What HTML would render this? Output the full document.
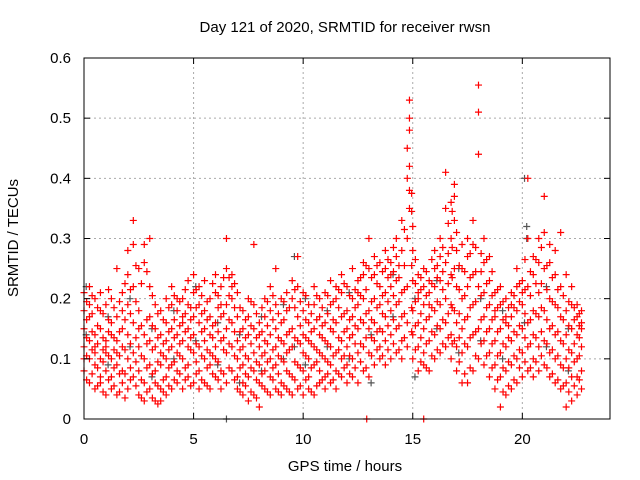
<!DOCTYPE html>
<html><head><meta charset="utf-8"><style>
body{margin:0;background:#fff;}
svg{display:block;font-family:"Liberation Sans",sans-serif;}
</style></head><body>
<svg id="chart" width="640" height="480">
<text x="345" y="32" text-anchor="middle" font-size="15">Day 121 of 2020, SRMTID for receiver rwsn</text>
<text x="345" y="471" text-anchor="middle" font-size="15">GPS time / hours</text>
<text transform="translate(18,238) rotate(-90)" text-anchor="middle" font-size="15">SRMTID / TECUs</text>
<g id="grid"></g><g id="gray"></g><g id="red"></g><g id="axes"></g>
</svg>
<script>
const xTicks=[0,5,10,15,20];
const yTicks=[0,0.1,0.2,0.3,0.4,0.5,0.6];
const yTickLabels=["0","0.1","0.2","0.3","0.4","0.5","0.6"];
const redTimes=[0,0.25,0.5,0.75,1,1.25,1.5,1.75,2,2.25,2.5,2.75,3,3.25,3.5,3.75,4,4.25,4.5,4.75,5,5.25,5.5,5.75,6,6.25,6.5,6.75,7,7.25,7.5,7.75,8,8.25,8.5,8.75,9,9.25,9.5,9.75,10,10.25,10.5,10.75,11,11.25,11.5,11.75,12,12.25,12.5,12.75,13,13.25,13.5,13.75,14,14.25,14.5,14.75,14.85,15,15.25,15.5,15.75,16,16.25,16.5,16.75,16.9,17,17.25,17.5,17.75,18,18.25,18.5,18.75,19,19.25,19.5,19.75,20,20.25,20.5,20.75,21,21.25,21.5,21.75,22,22.25,22.5,22.7,12.9,15.5];
const redValues=[
[.08,.12,.15,.18,.21,.10],[.06,.10,.13,.17,.22,.19],[.05,.09,.11,.14,.20,.12],[.07,.06,.10,.15,.18,.21],
[.04,.08,.12,.13,.19,.11],[.05,.07,.10,.16,.20,.14],[.04,.09,.13,.11,.17,.25],[.06,.08,.12,.15,.21,.18],
[.05,.10,.14,.19,.24,.28],[.07,.11,.16,.22,.29,.33],[.04,.08,.12,.18,.25,.15],[.03,.06,.10,.14,.26,.29],
[.05,.09,.13,.17,.22,.30],[.03,.06,.08,.12,.15,.19],[.03,.05,.09,.11,.14,.18],[.04,.07,.10,.13,.16,.20],
[.05,.09,.12,.15,.19,.22],[.06,.08,.11,.14,.18,.20],[.05,.10,.13,.16,.20,.17],[.07,.09,.12,.15,.19,.23],
[.06,.11,.14,.17,.21,.24],[.05,.08,.12,.16,.19,.22],[.06,.10,.13,.15,.18,.23],[.05,.09,.11,.14,.20,.17],
[.07,.10,.12,.16,.21,.24],[.05,.08,.13,.17,.22,.19],[.06,.11,.15,.19,.25,.30],[.08,.12,.16,.20,.24,.22],
[.05,.07,.10,.13,.17,.21],[.04,.06,.09,.12,.15,.18],[.03,.07,.10,.14,.17,.20],[.04,.08,.11,.15,.19,.29],
[.02,.06,.09,.12,.16,.14],[.05,.08,.11,.13,.17,.20],[.04,.07,.10,.14,.18,.22],[.05,.09,.12,.15,.19,.25],
[.04,.06,.10,.13,.16,.20],[.05,.08,.11,.14,.18,.21],[.04,.07,.12,.15,.20,.23],[.05,.09,.13,.17,.22,.27],
[.04,.08,.11,.14,.18,.21],[.05,.07,.10,.13,.16,.19],[.04,.09,.12,.15,.19,.22],[.06,.08,.11,.14,.17,.20],
[.05,.07,.10,.13,.16,.21],[.06,.09,.12,.15,.19,.23],[.05,.08,.11,.16,.20,.22],[.07,.10,.13,.17,.21,.24],
[.06,.09,.12,.15,.18,.22],[.07,.10,.14,.17,.20,.25],[.06,.11,.15,.19,.23,.21],[.08,.12,.16,.20,.24,.26],
[.07,.11,.15,.18,.25,.30],[.09,.13,.16,.20,.24,.27],[.10,.12,.15,.19,.22,.26],[.09,.13,.17,.21,.25,.28],
[.10,.14,.18,.22,.26,.24],[.11,.15,.19,.23,.27,.30],[.10,.13,.17,.21,.28,.33],[.12,.16,.22,.30,.40,.45],
[.35,.42,.48,.50,.53,.38],[.10,.14,.18,.23,.28,.32],[.08,.12,.16,.20,.24,.21],[.09,.11,.15,.19,.22,.25],
[.08,.13,.17,.21,.23,.19],[.10,.14,.18,.22,.25,.28],[.11,.15,.19,.23,.27,.30],[.12,.16,.20,.26,.35,.41],
[.10,.14,.19,.24,.30,.36],[.13,.18,.25,.33,.39,.37],[.08,.12,.16,.22,.28,.31],[.06,.11,.15,.20,.25,.29],
[.06,.12,.17,.22,.27,.30],[.08,.14,.19,.24,.29,.33],[.10,.15,.22,.44,.51,.555],[.09,.13,.17,.21,.26,.30],
[.07,.11,.15,.19,.23,.27],[.05,.09,.13,.17,.21,.18],[.02,.07,.11,.15,.19,.22],[.04,.08,.12,.16,.20,.17],
[.05,.09,.13,.17,.21,.19],[.06,.10,.14,.18,.22,.25],[.07,.11,.15,.19,.23,.21],[.08,.12,.16,.22,.30,.40],
[.07,.10,.14,.18,.24,.27],[.08,.12,.17,.21,.26,.30],[.09,.13,.18,.25,.31,.37],[.07,.11,.15,.20,.26,.29],
[.06,.10,.14,.19,.24,.28],[.05,.09,.13,.17,.22,.31],[.02,.06,.10,.14,.18,.24],[.03,.07,.11,.15,.19,.22],
[.04,.07,.10,.14,.17,.19],[.05,.08,.12,.15,.18,.16],[0],[0]];
const redTimes2=[0.12,0.37,0.62,0.87,1.12,1.37,1.62,1.87,2.12,2.37,2.62,2.87,3.12,3.37,3.62,3.87,4.12,4.37,4.62,4.87,5.12,5.37,5.62,5.87,6.12,6.37,6.62,6.87,7.12,7.37,7.62,7.87,8.12,8.37,8.62,8.87,9.12,9.37,9.62,9.87,10.12,10.37,10.62,10.87,11.12,11.37,11.62,11.87,12.12,12.37,12.62,12.87,13.12,13.37,13.62,13.87,14.12,14.37,14.62,14.95,15.12,15.37,15.62,15.87,16.12,16.37,16.62,16.8,17.12,17.37,17.62,17.87,18.12,18.37,18.62,18.87,19.12,19.37,19.62,19.87,20.12,20.37,20.62,20.87,21.12,21.37,21.62,21.87,22.12,22.37,22.6];
const redValues2=[
[.065,.105,.135,.165,.195],[.075,.115,.145,.175,.205],[.055,.085,.125,.155,.185],[.045,.095,.115,.135,.175],
[.065,.105,.145,.165,.215],[.055,.085,.115,.185,.135],[.045,.075,.105,.145,.195],[.035,.075,.115,.165,.225],
[.065,.085,.125,.175,.215],[.055,.095,.135,.195,.255],[.035,.065,.105,.155,.225],[.045,.085,.125,.165,.245],
[.035,.075,.115,.155,.205],[.025,.055,.095,.135,.175],[.045,.065,.105,.125,.165],[.055,.085,.115,.145,.185],
[.065,.095,.135,.165,.205],[.075,.105,.125,.155,.195],[.065,.085,.145,.175,.215],[.055,.115,.135,.165,.185],
[.075,.095,.125,.185,.215],[.065,.105,.145,.175,.205],[.055,.085,.115,.165,.195],[.075,.105,.135,.155,.225],
[.065,.095,.145,.185,.205],[.075,.115,.135,.175,.235],[.085,.125,.165,.205,.235],[.065,.105,.145,.185,.225],
[.045,.085,.115,.145,.185],[.055,.075,.105,.135,.165],[.045,.085,.125,.155,.195],[.035,.065,.095,.135,.175],
[.055,.075,.105,.145,.185],[.045,.095,.125,.155,.195],[.065,.085,.115,.165,.205],[.045,.075,.105,.135,.175],
[.055,.095,.125,.165,.195],[.045,.075,.115,.145,.185],[.065,.095,.135,.185,.215],[.055,.085,.125,.155,.195],
[.065,.105,.135,.165,.205],[.045,.085,.125,.145,.175],[.055,.095,.115,.165,.205],[.065,.105,.135,.155,.185],
[.075,.095,.125,.175,.205],[.065,.105,.145,.165,.195],[.075,.115,.135,.185,.215],[.085,.105,.145,.175,.225],
[.075,.105,.135,.165,.205],[.085,.125,.155,.185,.215],[.095,.125,.165,.205,.235],[.085,.135,.175,.215,.255],
[.105,.135,.165,.195,.235],[.115,.145,.185,.225,.255],[.105,.145,.175,.205,.245],[.115,.155,.195,.235,.265],
[.125,.165,.205,.245,.285],[.115,.155,.195,.235,.255],[.135,.175,.215,.255,.315],[.145,.185,.255,.345,.375],
[.115,.155,.195,.225,.265],[.095,.135,.175,.215,.235],[.085,.125,.165,.205,.245],[.105,.145,.185,.225,.265],
[.115,.155,.195,.235,.255],[.125,.165,.215,.245,.285],[.135,.175,.225,.275,.325],[.125,.185,.235,.285,.345],
[.095,.135,.175,.215,.255],[.075,.125,.165,.205,.245],[.085,.135,.185,.235,.275],[.105,.145,.195,.245,.285],
[.125,.165,.205,.245,.275],[.105,.145,.185,.225,.265],[.085,.125,.165,.205,.245],[.065,.105,.145,.185,.215],
[.045,.085,.125,.165,.195],[.055,.095,.135,.155,.185],[.065,.105,.145,.185,.205],[.085,.115,.155,.195,.225],
[.095,.135,.175,.215,.265],[.085,.125,.165,.205,.245],[.095,.135,.175,.225,.265],[.105,.145,.185,.225,.285],
[.085,.125,.165,.215,.255],[.075,.115,.155,.195,.235],[.065,.105,.145,.185,.215],[.055,.085,.125,.165,.205],
[.045,.085,.115,.155,.195],[.055,.095,.125,.165,.185],[.065,.105,.135,.155,.175]];
const grayTimes=[0.1,1.1,2.1,3.1,4.1,5.1,6.1,6.5,7.1,8.1,9.1,9.6,10.1,11.1,12.1,13.1,14.1,15.1,16.1,17.1,18.1,19.1,20.1,20.2,21.1,22.1];
const grayValues=[[.14,.22],[.09,.17],[.12,.2],[.07,.15],[.1,.18],[.13,.22],[.09,.16],[0],[.06,.14],[.08,.17],[.1,.19],[.27,.12],[.09,.2],[.12,.18],[.1,.21],[.14,.06],[.17,.24],[.07,.2],[.15,.23],[.11,.25],[.13,.2],[.1,.18],[.16,.4],[.32,.3],[.12,.22],[.08,.15]];

const X0=84,X1=610,Y0=419,Y1=58;
const xs=t=>X0+t/24*(X1-X0);
const ys=v=>Y0-v/0.6*(Y0-Y1);
const NS="http://www.w3.org/2000/svg";
function mk(tag,attrs,parent){const e=document.createElementNS(NS,tag);for(const k in attrs)e.setAttribute(k,attrs[k]);parent.appendChild(e);return e;}
const grid=document.getElementById('grid'),axes=document.getElementById('axes');
yTicks.forEach((v,i)=>{
  if(v>0&&v<0.6){const g=mk('line',{x1:X0,x2:X1,y1:ys(v),y2:ys(v),stroke:'#aaa','stroke-dasharray':'2,3'},grid);
  
  }
  const t=mk('text',{x:X0-13,y:ys(v)+5,'text-anchor':'end','font-size':15},axes);t.textContent=yTickLabels[i];
  
  
  mk('line',{x1:X0,x2:X0+6,y1:ys(v),y2:ys(v),stroke:'#000'},axes);
  mk('line',{x1:X1,x2:X1-6,y1:ys(v),y2:ys(v),stroke:'#000'},axes);
});
xTicks.forEach(v=>{
  if(v>0){const g=mk('line',{x1:xs(v),x2:xs(v),y1:Y0,y2:Y1,stroke:'#aaa','stroke-dasharray':'2,3'},grid);
  
  }
  const t=mk('text',{x:xs(v),y:Y0+25,'text-anchor':'middle','font-size':15},axes);t.textContent=String(v);
  
  
  mk('line',{x1:xs(v),x2:xs(v),y1:Y0,y2:Y0-6,stroke:'#000'},axes);
  mk('line',{x1:xs(v),x2:xs(v),y1:Y1,y2:Y1+6,stroke:'#000'},axes);
});
const fr=mk('rect',{x:X0,y:Y1,width:X1-X0,height:Y0-Y1,fill:'none',stroke:'#000'},axes);


function plus(g,t,v,c){
  const x=xs(t),y=ys(v);
  return mk('path',{d:`M${x-3.5},${y}h7M${x},${y-3.5}v7`,stroke:c,'stroke-width':1.2,fill:'none'},g);
}
const gg=document.getElementById('gray');
grayTimes.forEach((t,i)=>grayValues[i].forEach(v=>{
  const p=plus(gg,t,v,'#555');
  
  
}));
const rg=document.getElementById('red');
redTimes.forEach((t,i)=>redValues[i].forEach(v=>{
  const p=plus(rg,t,v,'#f00');
  
  
}));
redTimes2.forEach((t,i)=>redValues2[i].forEach(v=>{
  const p=plus(rg,t,v,'#f00');
  
  
}));
</script>
</body></html>
